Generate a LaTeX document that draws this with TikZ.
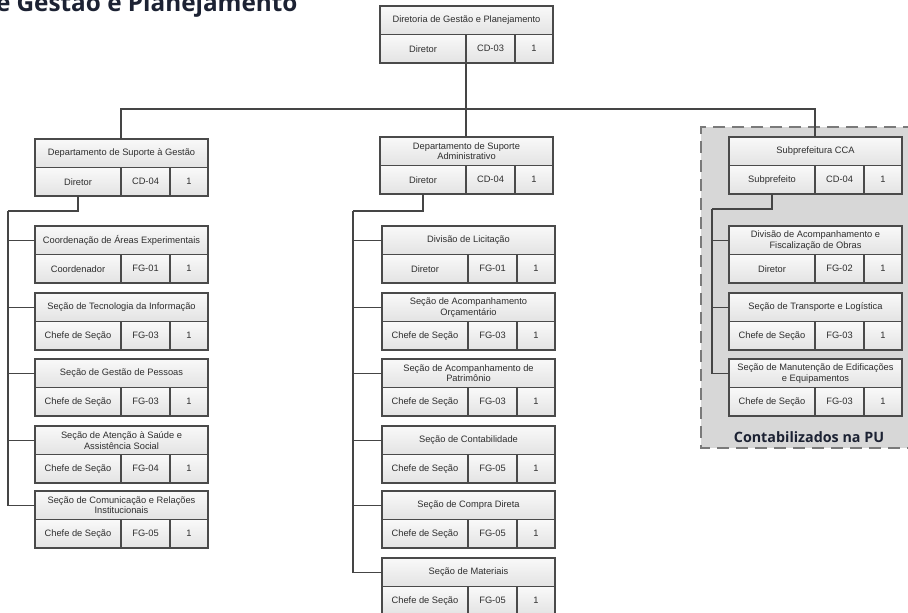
\documentclass[tikz,border=0pt]{standalone}
\usepackage{fontspec}
\setmainfont{Liberation Sans}
\newfontfamily\headfont{Open Sans}
\usetikzlibrary{shadows}

\definecolor{boxline}{HTML}{4A4A4A}
\definecolor{boxtop}{HTML}{F9F9F9}
\definecolor{boxbottom}{HTML}{E3E3E3}
\definecolor{boxtext}{HTML}{2E2E2E}
\definecolor{linkcol}{HTML}{454545}
\definecolor{regionfill}{HTML}{D7D7D7}
\definecolor{regionline}{HTML}{7A7A7A}
\definecolor{headcol}{HTML}{1C2233}

% One position box: title row above three cells (post, code, quantity)
% #1 name, #2 x of left edge, #3 y of top edge, #4 title, #5 post, #6 code, #7 quantity
\newcommand{\orgbox}[7]{%
  \node[orgtitle, anchor=north west] (#1) at (#2,#3) {#4};
  \node[orgcell, minimum width=86pt, anchor=north west] (#1c) at (#1.south west) {#5};
  \node[orgcell, minimum width=49pt, anchor=west] (#1k) at (#1c.east) {#6};
  \node[orgcell, minimum width=38pt, anchor=west] (#1q) at (#1k.east) {#7};
}

\begin{document}
\begin{tikzpicture}[x=1pt, y=-1pt,
  every node/.style={outer sep=0pt},
  orgcell/.style={draw=boxline, line width=1.3pt, top color=boxtop, bottom color=boxbottom,
    font=\fontsize{9.3}{10.8}\selectfont, text=boxtext, inner sep=1pt, align=center,
    minimum height=28.5pt,
    drop shadow={opacity=0.18, shadow xshift=1.2pt, shadow yshift=-1.2pt}},
  orgtitle/.style={orgcell, minimum width=173pt},
  link/.style={draw=linkcol, line width=1.3pt},
  region/.style={draw=regionline, line width=1.5pt, dash pattern=on 12pt off 7pt},
]
\useasboundingbox (0,0) rectangle (908,613);
\clip (0,0) rectangle (908,613);
\fill[white] (0,0) rectangle (908,613);

% heading
\node[anchor=base west, font=\headfont\bfseries\fontsize{24.3}{27}\selectfont, text=headcol, inner sep=0pt]
  (heading) at (-4,11.5) {e Gestão e Planejamento};

% shaded area of the subprefecture
\fill[regionfill] (701,127) rectangle (915,448);
\draw[region] (915,127) -- (701,127) -- (701,448) -- (915,448);
\node[anchor=base, font=\headfont\bfseries\fontsize{14.3}{17}\selectfont, text=headcol, inner sep=0pt]
  (pu) at (809,442) {Contabilizados na PU};

% top of the tree
\orgbox{dg}{380}{6}{Diretoria de Gestão e Planejamento}{Diretor}{CD-03}{1}

% left branch
\orgbox{dsg}{35}{139}{Departamento de Suporte à Gestão}{Diretor}{CD-04}{1}
\orgbox{cae}{35}{226}{Coordenação de Áreas Experimentais}{Coordenador}{FG-01}{1}
\orgbox{sti}{35}{293}{Seção de Tecnologia da Informação}{Chefe de Seção}{FG-03}{1}
\orgbox{sgp}{35}{359}{Seção de Gestão de Pessoas}{Chefe de Seção}{FG-03}{1}
\orgbox{sas}{35}{426}{Seção de Atenção à Saúde e\\Assistência Social}{Chefe de Seção}{FG-04}{1}
\orgbox{scr}{35}{491}{Seção de Comunicação e Relações\\Institucionais}{Chefe de Seção}{FG-05}{1}

% middle branch
\orgbox{dsa}{380}{137}{Departamento de Suporte\\Administrativo}{Diretor}{CD-04}{1}
\orgbox{dlc}{382}{226}{Divisão de Licitação}{Diretor}{FG-01}{1}
\orgbox{sao}{382}{293}{Seção de Acompanhamento\\Orçamentário}{Chefe de Seção}{FG-03}{1}
\orgbox{sap}{382}{359}{Seção de Acompanhamento de\\Patrimônio}{Chefe de Seção}{FG-03}{1}
\orgbox{sct}{382}{426}{Seção de Contabilidade}{Chefe de Seção}{FG-05}{1}
\orgbox{scd}{382}{491}{Seção de Compra Direta}{Chefe de Seção}{FG-05}{1}
\orgbox{smt}{382}{558}{Seção de Materiais}{Chefe de Seção}{FG-05}{1}

% right branch
\orgbox{spc}{729}{137}{Subprefeitura CCA}{Subprefeito}{CD-04}{1}
\orgbox{dao}{729}{226}{Divisão de Acompanhamento e\\Fiscalização de Obras}{Diretor}{FG-02}{1}
\orgbox{stl}{729}{293}{Seção de Transporte e Logística}{Chefe de Seção}{FG-03}{1}
\orgbox{sme}{729}{359}{Seção de Manutenção de Edificações\\e Equipamentos}{Chefe de Seção}{FG-03}{1}

% connectors from the directorate to the departments
\path (dgc.south east) ++(0,46) coordinate (bus);
\draw[link] (dgc.south east) -- (bus);
\draw[link] (bus) -| (dsgc.east |- dsg.north);
\draw[link] (bus) -- (dsac.east |- dsa.north);
\draw[link] (bus) -| (spcc.east |- spc.north);

% connectors inside each department
\coordinate (dsgspine) at (8,211);
\draw[link] (dsgc.south) |- (dsgspine);
\foreach \k in {cae,sti,sgp,sas,scr} \draw[link] (dsgspine) |- (\k.west);

\coordinate (dsaspine) at (353,211);
\draw[link] (dsac.south) |- (dsaspine);
\foreach \k in {dlc,sao,sap,sct,scd,smt} \draw[link] (dsaspine) |- (\k.west);

\coordinate (spcspine) at (712,209);
\draw[link] (spcc.south) |- (spcspine);
\foreach \k in {dao,stl,sme} \draw[link] (spcspine) |- (\k.west);
\end{tikzpicture}
\end{document}
